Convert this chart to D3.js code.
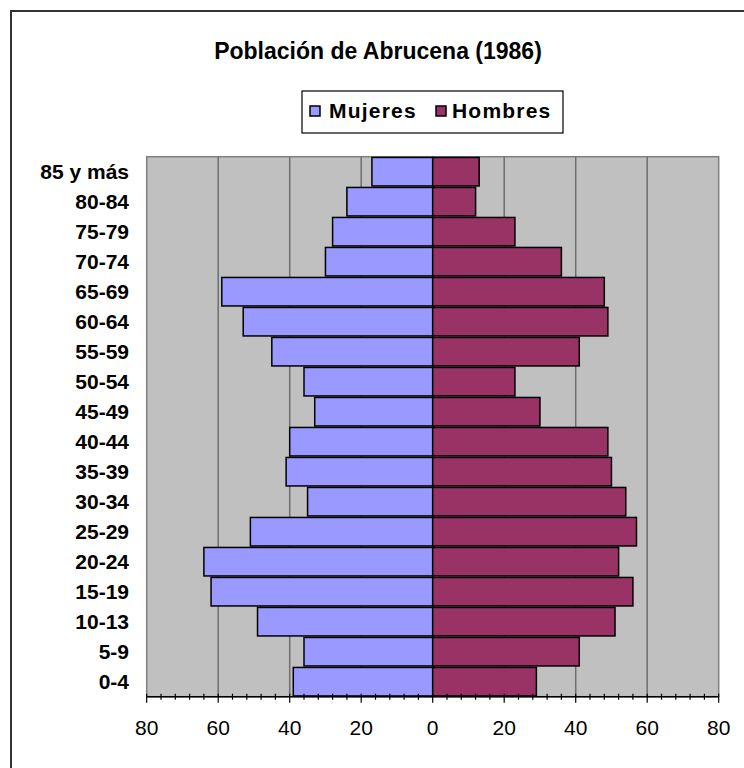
<!DOCTYPE html>
<html>
<head>
<meta charset="utf-8">
<script src="https://cdn.jsdelivr.net/npm/d3@7"></script>
<style>
  html, body { margin: 0; padding: 0; background: #fff; }
  svg { display: block; font-family: "Liberation Sans", Arial, sans-serif; }
</style>
</head>
<body>
<svg id="chart" width="744" height="768"></svg>
<script>
// age groups, top to bottom as drawn
const grupos = ['85 y más', '80-84', '75-79', '70-74', '65-69', '60-64', '55-59', '50-54', '45-49',
    '40-44', '35-39', '30-34', '25-29', '20-24', '15-19', '10-13', '5-9', '0-4'];
const mujeres = [17, 24, 28, 30, 59, 53, 45, 36, 33, 40, 41, 35, 51, 64, 62, 49, 36, 39];
const hombres = [13, 12, 23, 36, 48, 49, 41, 23, 30, 49, 50, 54, 57, 52, 56, 51, 41, 29];
const xTicks = [-80, -60, -40, -20, 0, 20, 40, 60, 80];
const series = ['Mujeres', 'Hombres'];

const svg = d3.select('#chart');
const plotLeft = 146.7, plotRight = 718.7, plotTop = 156.7, plotBottom = 696.7;

const color = d3.scaleOrdinal().domain(series).range(['#9999ff', '#993366']);

const x = d3.scaleLinear().domain([-80, 80]).range([plotLeft, plotRight]);
const y = d3.scaleBand().domain(grupos).range([plotTop, plotBottom]).paddingInner(0.05).paddingOuter(0.025);

// outer chart border (runs off the right/bottom edge)
svg.append('rect')
    .attr('x', 11).attr('y', 11).attr('width', 760).attr('height', 780)
    .attr('fill', 'none').attr('stroke', '#333').attr('stroke-width', 2);

// title
svg.append('text')
    .attr('x', 378).attr('y', 59)
    .attr('text-anchor', 'middle')
    .attr('font-size', 23).attr('font-weight', 'bold')
    .text('Población de Abrucena (1986)');

// plot area
svg.append('rect')
    .attr('x', plotLeft).attr('y', plotTop)
    .attr('width', plotRight - plotLeft).attr('height', plotBottom - plotTop)
    .attr('fill', '#c0c0c0').attr('stroke', '#808080').attr('stroke-width', 1.5);

// vertical grid lines
svg.append('g')
    .selectAll('line')
    .data(xTicks.filter(d => Math.abs(d) !== 80 && d !== 0))
    .join('line')
    .attr('x1', d => x(d)).attr('x2', d => x(d))
    .attr('y1', plotTop).attr('y2', plotBottom)
    .attr('stroke', '#6e6e6e').attr('stroke-width', 1.5);

// bars
svg.append('g')
    .selectAll('rect')
    .data(grupos.map((g, i) => ({ g, v: mujeres[i] })))
    .join('rect')
    .attr('x', d => x(-d.v)).attr('width', d => x(0) - x(-d.v))
    .attr('y', d => y(d.g)).attr('height', y.bandwidth())
    .attr('fill', color('Mujeres')).attr('stroke', '#000').attr('stroke-width', 1.5);

svg.append('g')
    .selectAll('rect')
    .data(grupos.map((g, i) => ({ g, v: hombres[i] })))
    .join('rect')
    .attr('x', x(0)).attr('width', d => x(d.v) - x(0))
    .attr('y', d => y(d.g)).attr('height', y.bandwidth())
    .attr('fill', color('Hombres')).attr('stroke', '#000').attr('stroke-width', 1.5);

// x axis: minor ticks every 4, labels every 20
const xAxis = svg.append('g').attr('transform', `translate(0,${plotBottom})`);
xAxis.append('line')
    .attr('x1', plotLeft).attr('x2', plotRight)
    .attr('stroke', '#000').attr('stroke-width', 1.5);
xAxis.selectAll('.tick')
    .data(d3.range(-80, 81, 4))
    .join('line')
    .attr('class', 'tick')
    .attr('x1', d => x(d)).attr('x2', d => x(d))
    .attr('y1', -3).attr('y2', d => d % 20 === 0 ? 6 : 3)
    .attr('stroke', '#000').attr('stroke-width', 1.2);
xAxis.selectAll('text')
    .data(xTicks)
    .join('text')
    .attr('x', d => x(d)).attr('y', 38.5)
    .attr('text-anchor', 'middle')
    .attr('font-size', 21)
    .text(d => Math.abs(d));

// y labels
svg.append('g')
    .selectAll('text')
    .data(grupos)
    .join('text')
    .attr('x', 129)
    .attr('y', d => y(d) + y.bandwidth() / 2)
    .attr('dy', '0.36em')
    .attr('text-anchor', 'end')
    .attr('font-size', 21).attr('font-weight', 'bold')
    .text(d => d);

// legend
const legend = svg.append('g');
legend.append('rect')
    .attr('x', 302).attr('y', 91).attr('width', 261).attr('height', 42)
    .attr('fill', '#fff').attr('stroke', '#000').attr('stroke-width', 1.2);
const items = legend.selectAll('g')
    .data(series)
    .join('g')
    .attr('transform', (d, i) => `translate(${i === 0 ? 310 : 436},0)`);
items.append('rect')
    .attr('x', 0).attr('y', 106).attr('width', 10).attr('height', 10)
    .attr('fill', d => color(d)).attr('stroke', '#000').attr('stroke-width', 1.5);
items.append('text')
    .attr('x', (d, i) => i === 0 ? 19 : 16).attr('y', 117.5)
    .attr('font-size', 21).attr('font-weight', 'bold')
    .attr('letter-spacing', 1.2)
    .text(d => d);
</script>
</body>
</html>
